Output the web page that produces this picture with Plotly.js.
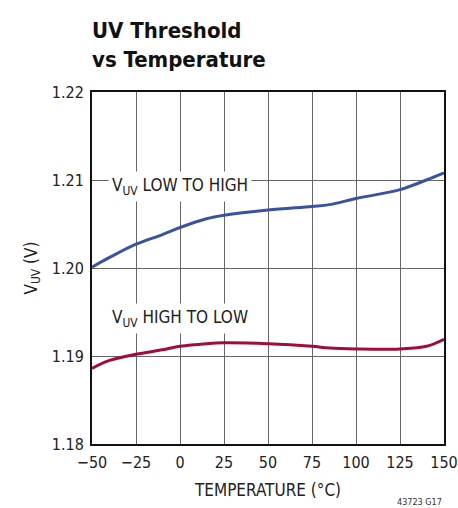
<!DOCTYPE html>
<html>
<head>
<meta charset="utf-8">
<script src="https://cdn.plot.ly/plotly-3.0.1.min.js"></script>
<style>html,body{margin:0;padding:0;background:#fff;}#chart{width:458px;height:508px;}</style>
</head>
<body>
<div id="chart"></div>
<script>
var temperature = [-50, -40, -25, -10, 0, 15, 25, 50, 75, 85, 100, 125, 140, 150];
var lowToHigh = [1.2001, 1.2012, 1.2027, 1.2038, 1.2046, 1.2056, 1.2060, 1.2066, 1.2070, 1.2072, 1.2079, 1.2089, 1.2100, 1.2108];
var highToLow = [1.1886, 1.1895, 1.1902, 1.1907, 1.1911, 1.1914, 1.1915, 1.1914, 1.1911, 1.1909, 1.1908, 1.1908, 1.1911, 1.1919];
var xTicks = [-50, -25, 0, 25, 50, 75, 100, 125, 150];
var xTickText = ['\u221250', '\u221225', '0', '25', '50', '75', '100', '125', '150'];
var yTicks = [1.18, 1.19, 1.20, 1.21, 1.22];
var yTickText = ['1.18', '1.19', '1.20', '1.21', '1.22'];

var FONT = '"DejaVu Sans Condensed", "Liberation Sans Narrow", "Liberation Sans", Arial, sans-serif';

var traces = [
  {x: temperature, y: lowToHigh, mode: 'lines', line: {color: '#3a52a3', width: 3, shape: 'spline'}, hoverinfo: 'skip'},
  {x: temperature, y: highToLow, mode: 'lines', line: {color: '#a00d3c', width: 3, shape: 'spline'}, hoverinfo: 'skip'}
];

var layout = {
  width: 458, height: 508,
  margin: {l: 92, r: 14, t: 92, b: 64},
  paper_bgcolor: '#fff', plot_bgcolor: '#fff',
  showlegend: false,
  font: {family: FONT, color: '#222', size: 16},
  title: {
    text: '<b>UV Threshold<br>vs Temperature</b>',
    font: {family: FONT, size: 22, color: '#111'},
    x: 92/458, xanchor: 'left', xref: 'container',
    y: 0.925, yanchor: 'top', yref: 'container'
  },
  xaxis: {
    range: [-50, 150], tickvals: xTicks, ticktext: xTickText,
    showgrid: true, gridcolor: '#666', gridwidth: 1,
    showline: true, linecolor: '#111', linewidth: 2, mirror: true,
    ticks: 'outside', ticklen: 3, tickcolor: 'rgba(0,0,0,0)',
    zeroline: false, fixedrange: true, ticklabeloverflow: 'allow',
    tickfont: {family: FONT, size: 16, color: '#222'},
    title: {text: 'TEMPERATURE (°C)', font: {family: FONT, size: 17, color: '#222'}, standoff: 13}
  },
  yaxis: {
    range: [1.18, 1.22], tickvals: yTicks, ticktext: yTickText,
    showgrid: true, gridcolor: '#666', gridwidth: 1,
    showline: true, linecolor: '#111', linewidth: 2, mirror: true,
    ticks: 'outside', ticklen: 3, tickcolor: 'rgba(0,0,0,0)',
    zeroline: false, fixedrange: true, ticklabeloverflow: 'allow',
    tickfont: {family: FONT, size: 16, color: '#222'},
    title: {text: 'V<sub>UV</sub> (V)', font: {family: FONT, size: 17, color: '#222'}, standoff: 10}
  },
  annotations: [
    {text: 'V<sub>UV</sub> LOW TO HIGH', xref: 'paper', yref: 'y', x: 0.045, y: 1.2093,
     xanchor: 'left', yanchor: 'middle', showarrow: false, bgcolor: '#fff', borderpad: 3,
     font: {family: FONT, size: 17, color: '#222'}},
    {text: 'V<sub>UV</sub> HIGH TO LOW', xref: 'paper', yref: 'y', x: 0.045, y: 1.1943,
     xanchor: 'left', yanchor: 'middle', showarrow: false, bgcolor: '#fff', borderpad: 3,
     font: {family: FONT, size: 17, color: '#222'}},
    {text: '43723 G17', xref: 'paper', yref: 'paper', x: 1.0, y: -0.165,
     xanchor: 'right', yanchor: 'middle', showarrow: false,
     font: {family: FONT, size: 9, color: '#333'}}
  ]
};

Plotly.newPlot('chart', traces, layout, {staticPlot: true, displayModeBar: false});
</script>
</body>
</html>
